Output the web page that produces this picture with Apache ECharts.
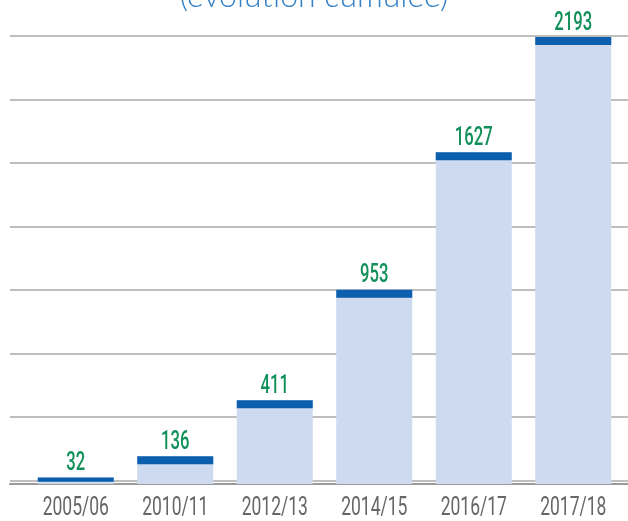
<!DOCTYPE html>
<html>
<head>
<meta charset="utf-8">
<script src="https://cdn.jsdelivr.net/npm/echarts@6/dist/echarts.min.js"></script>
<style>
  html, body { margin: 0; padding: 0; background: #fff; }
  #main { width: 628px; height: 521px; }
</style>
</head>
<body>
<div id="main"></div>
<script>
var years = ['2005/06', '2010/11', '2012/13', '2014/15', '2016/17', '2017/18'];
var totals = [32, 136, 411, 953, 1627, 2193];

var myChart = echarts.init(document.getElementById('main'));

// no condensed face is installed, so text is squeezed horizontally
function narrowText(x, y, text, size, weight, color, vAlign, sx) {
    return {
        type: 'text',
        x: x,
        y: y,
        scaleX: sx,
        style: {
            text: text,
            x: 0,
            y: 0,
            align: 'center',
            verticalAlign: vAlign,
            fontFamily: 'Roboto',
            fontWeight: weight,
            fontSize: size,
            fill: color
        }
    };
}

option = {
    animation: false,
    title: {
        text: '(évolution cumulée)',
        left: 'center',
        top: -24,
        textStyle: {
            fontFamily: 'Lato',
            fontWeight: 300,
            fontSize: 32,
            color: '#3580c6'
        }
    },
    grid: [
        // background rules, full width
        {left: 10, right: 0, top: 36, bottom: 37},
        // bars
        {left: 26, right: 5, top: 37, bottom: 37}
    ],
    xAxis: [
        {
            gridIndex: 0,
            type: 'value',
            axisLine: {show: true, onZero: false, lineStyle: {color: '#9a9a9a', width: 2}},
            axisTick: {show: false},
            axisLabel: {show: false},
            splitLine: {show: false}
        },
        {
            gridIndex: 1,
            type: 'category',
            data: years,
            axisLine: {show: false},
            axisTick: {show: false},
            axisLabel: {show: false}
        }
    ],
    yAxis: [
        {
            gridIndex: 0,
            type: 'value',
            inverse: true,
            min: 0,
            max: 7.055,
            interval: 1,
            axisLine: {show: false},
            axisTick: {show: false},
            axisLabel: {show: false},
            splitLine: {show: true, showMaxLine: false, lineStyle: {color: '#a8a8a8', width: 1.5}}
        },
        {
            gridIndex: 1,
            type: 'value',
            min: 0,
            max: 2193,
            show: false,
            splitLine: {show: false}
        }
    ],
    series: [
        {
            type: 'bar',
            xAxisIndex: 1,
            yAxisIndex: 1,
            data: totals,
            barWidth: 76,
            itemStyle: {color: '#cedaf0'}
        },
        {
            // dark cap, value label and category label for each bar
            type: 'custom',
            xAxisIndex: 1,
            yAxisIndex: 1,
            data: totals.map(function (v, i) { return [i, v]; }),
            renderItem: function (params, api) {
                var i = api.value(0);
                var top = api.coord([i, api.value(1)]);
                var base = api.coord([i, 0]);
                var h = Math.min(8, (base[1] - top[1]) * 0.65);
                return {
                    type: 'group',
                    children: [
                        {
                            type: 'rect',
                            shape: {x: top[0] - 38, y: top[1], width: 76, height: h},
                            style: {fill: '#0b5fad'}
                        },
                        narrowText(top[0], top[1] - 1, String(totals[i]), 26, 500, '#12905a', 'bottom', 0.64),
                        narrowText(base[0], base[1] + 12, years[i], 25, 400, '#666666', 'top', 0.7)
                    ]
                };
            },
            silent: true,
            z: 3
        }
    ]
};
myChart.setOption(option);
</script>
</body>
</html>
